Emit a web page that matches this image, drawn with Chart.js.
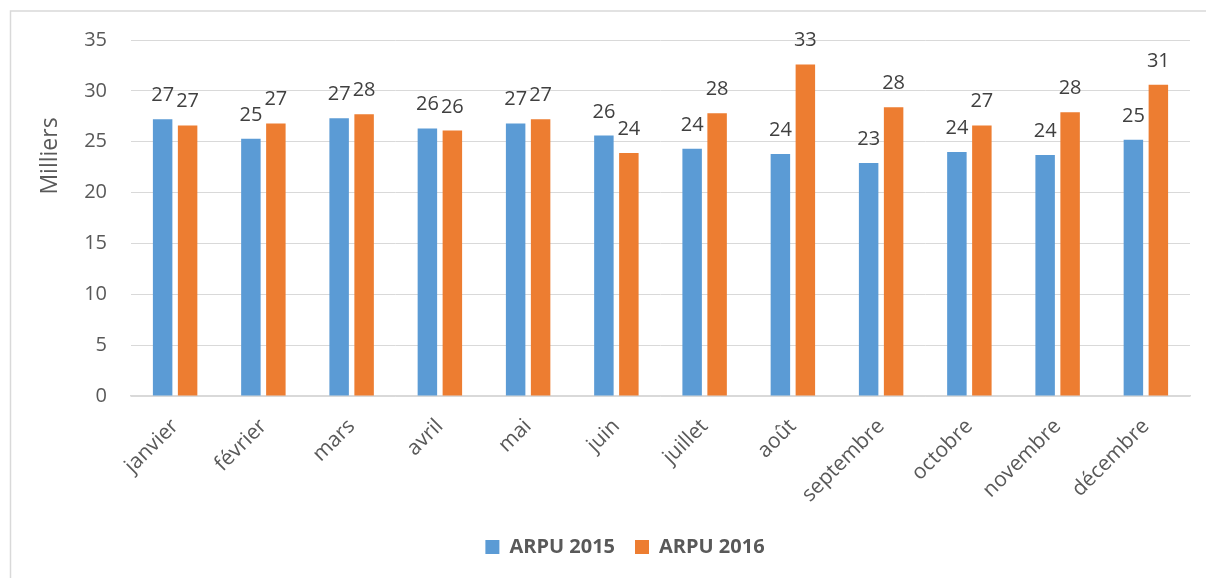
<!DOCTYPE html>
<html>
<head>
<meta charset="utf-8">
<script src="https://cdn.jsdelivr.net/npm/chart.js@4"></script>
<style>
  html, body { margin: 0; padding: 0; background: #ffffff; }
  #wrap { width: 1206px; height: 578px; position: relative; }
</style>
</head>
<body>
<div id="wrap"><canvas id="c" width="1206" height="578"></canvas></div>
<script>
const categories = ["janvier", "février", "mars", "avril", "mai", "juin", "juillet", "août", "septembre", "octobre", "novembre", "décembre"];
const arpu2015 = [27.2, 25.3, 27.3, 26.3, 26.8, 25.6, 24.3, 23.8, 22.9, 24.0, 23.7, 25.2];
const arpu2016 = [26.6, 26.8, 27.7, 26.1, 27.2, 23.9, 27.8, 32.6, 28.4, 26.6, 27.9, 30.6];
const seriesNames = ["ARPU 2015", "ARPU 2016"];
const yTicks = [0, 5, 10, 15, 20, 25, 30, 35];
const axisTitle = "Milliers";

const FONT = "'Open Sans', 'Noto Sans', sans-serif";

const framePlugin = {
  id: 'frame',
  beforeDraw(chart) {
    const ctx = chart.ctx;
    ctx.save();
    ctx.strokeStyle = '#d9d9d9';
    ctx.lineWidth = 1.5;
    ctx.beginPath();
    ctx.moveTo(10.5, chart.height);
    ctx.lineTo(10.5, 11);
    ctx.lineTo(chart.width, 11);
    ctx.stroke();
    ctx.restore();
  }
};

const titlePlugin = {
  id: 'yTitle',
  afterDraw(chart) {
    const ctx = chart.ctx;
    ctx.save();
    ctx.font = "23px " + FONT;
    ctx.fillStyle = '#595959';
    ctx.textAlign = 'center';
    ctx.textBaseline = 'middle';
    ctx.translate(50, chart.chartArea.top + 116);
    ctx.rotate(-Math.PI / 2);
    ctx.fillText(axisTitle, 0, 0);
    ctx.restore();
  }
};

const labelPlugin = {
  id: 'barLabels',
  afterDatasetsDraw(chart) {
    const ctx = chart.ctx;
    ctx.save();
    ctx.font = "20px " + FONT;
    ctx.fillStyle = '#404040';
    ctx.textAlign = 'center';
    ctx.textBaseline = 'alphabetic';
    chart.data.datasets.forEach((ds, i) => {
      const meta = chart.getDatasetMeta(i);
      meta.data.forEach((bar, j) => {
        ctx.fillText(String(Math.round(ds.data[j])), bar.x, bar.y - 18);
      });
    });
    ctx.restore();
  }
};

new Chart(document.getElementById('c'), {
  type: 'bar',
  data: {
    labels: categories,
    datasets: [
      { label: seriesNames[0], data: arpu2015, backgroundColor: '#5B9BD5', categoryPercentage: 0.566, barPercentage: 0.78 },
      { label: seriesNames[1], data: arpu2016, backgroundColor: '#ED7D31', categoryPercentage: 0.566, barPercentage: 0.78 }
    ]
  },
  options: {
    responsive: false,
    animation: false,
    devicePixelRatio: 1,
    layout: { padding: { left: 60, right: 16, top: 40, bottom: 11 } },
    plugins: {
      tooltip: { enabled: false },
      legend: {
        position: 'bottom',
        labels: {
          boxWidth: 14,
          boxHeight: 14,
          padding: 20,
          color: '#595959',
          font: { family: FONT, size: 20, weight: 'bold' }
        }
      }
    },
    scales: {
      x: {
        grid: { display: false, drawTicks: false },
        border: { display: true, color: '#d9d9d9', width: 1.5 },
        ticks: {
          autoSkip: false,
          maxRotation: 45,
          minRotation: 45,
          padding: 18,
          color: '#595959',
          font: { family: FONT, size: 21 }
        },
        afterFit(scale) { scale.height = 121; }
      },
      y: {
        min: 0,
        max: 35,
        afterBuildTicks(scale) { scale.ticks = yTicks.map(v => ({ value: v })); },
        grid: { color: '#d9d9d9', lineWidth: 1, drawTicks: false },
        border: { display: false },
        ticks: {
          padding: 24,
          color: '#595959',
          font: { family: FONT, size: 20 }
        },
        afterFit(scale) { scale.width = 71; }
      }
    }
  },
  plugins: [framePlugin, titlePlugin, labelPlugin]
});
</script>
</body>
</html>
